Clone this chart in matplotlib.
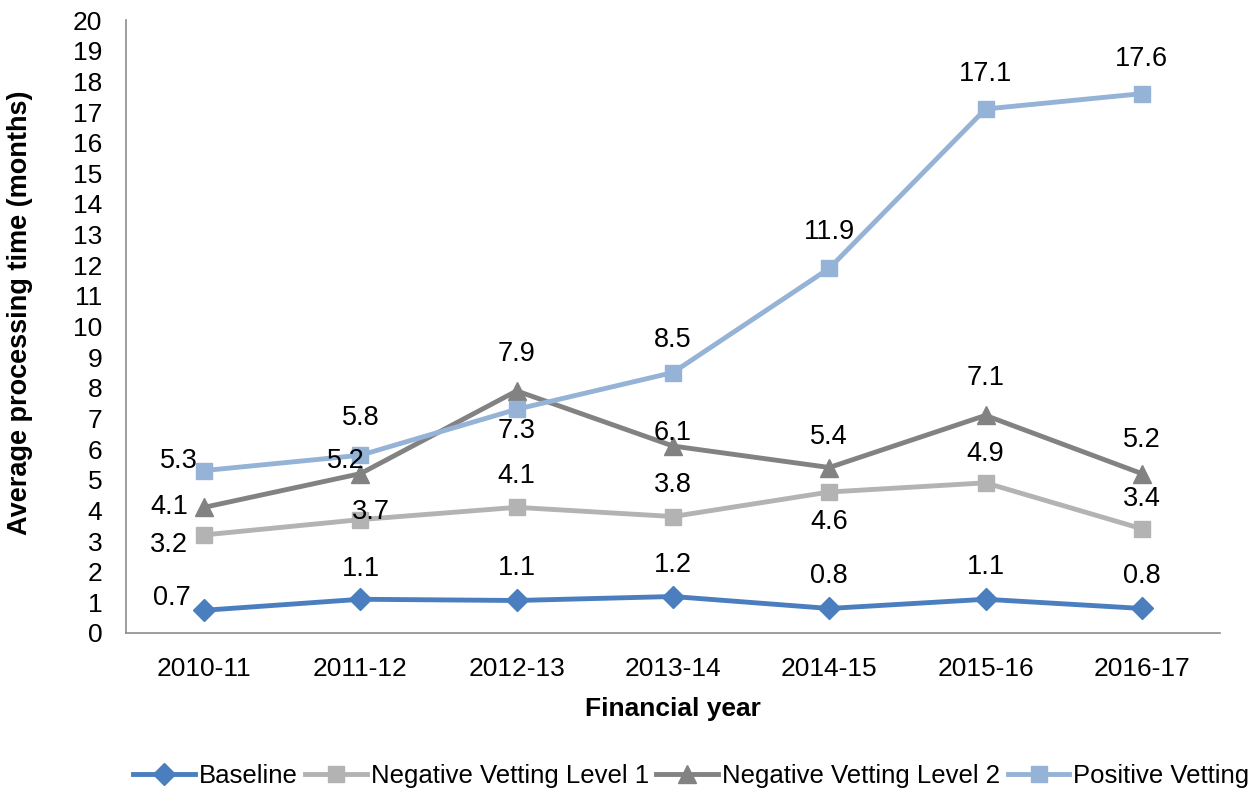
import numpy as np
import matplotlib
matplotlib.use("Agg")
from matplotlib import pyplot as plt

plt.rcParams["font.family"] = ["Liberation Sans", "DejaVu Sans"]

years = ["2010-11", "2011-12", "2012-13", "2013-14", "2014-15", "2015-16", "2016-17"]
baseline = [0.74, 1.1, 1.06, 1.19, 0.8, 1.1, 0.8]
neg1 = [3.2, 3.7, 4.1, 3.8, 4.6, 4.9, 3.4]
neg2 = [4.1, 5.2, 7.9, 6.1, 5.4, 7.1, 5.2]
positive = [5.3, 5.8, 7.3, 8.5, 11.9, 17.1, 17.6]

# label offsets in pixels (dx, dy)
off_base = [(-32, 12), (0, 30), (0, 32), (0, 32), (0, 32), (0, 32), (0, 32)]
off_neg1 = [(-35, -10), (10, 8), (0, 31), (0, 32), (0, -30), (0, 29), (0, 30)]
off_neg2 = [(-35, 0), (-15, 13), (0, 37), (0, 13), (0, 31), (0, 37), (0, 34)]
off_pos = [(-25, 10), (0, 37), (0, -22), (0, 33), (0, 36), (0, 35), (0, 35)]

fig = plt.figure(figsize=(12.59, 8.05), dpi=100)
ax = fig.add_axes([0.1001, 0.2137, 0.8689, 0.7613])
x = np.arange(len(years))

series = [
    ("Baseline", baseline, "#4A7EBF", "D", 11, off_base),
    ("Negative Vetting Level 1", neg1, "#B3B3B3", "s", 12, off_neg1),
    ("Negative Vetting Level 2", neg2, "#828282", "^", 13, off_neg2),
    ("Positive Vetting", positive, "#95B3D7", "s", 12, off_pos),
]
for name, vals, col, mk, ms, offs in series:
    ax.plot(x, vals, color=col, lw=3.5, marker=mk, markersize=ms, label=name)
    for i, v in enumerate(vals):
        ax.annotate("%.1f" % v, (x[i], v), xytext=offs[i], textcoords="offset pixels",
                    ha="center", va="center", fontsize=19.5, color="black")

ax.set_xlim(-0.5, 6.5)
ax.set_ylim(0, 20)
ax.set_yticks(range(0, 21))
ax.set_xticks(x)
ax.set_xticklabels(years)
ax.tick_params(length=0, labelsize=19)
ax.tick_params(axis="x", pad=17)
ax.tick_params(axis="y", pad=17)
for s in ["top", "right"]:
    ax.spines[s].set_visible(False)
for s in ["left", "bottom"]:
    ax.spines[s].set_color("#8C8C8C")
    ax.spines[s].set_linewidth(1.2)
ax.set_xlabel("Financial year", fontsize=19, fontweight="bold", labelpad=12)
fig.text(20 / 1259, 1 - 313 / 805, "Average processing time (months)", rotation=90,
         ha="center", va="center", fontsize=19.5, fontweight="bold")

fig.legend(loc="lower center", bbox_to_anchor=(0.549, -0.008), ncol=4, frameon=False,
           fontsize=18.5, handlelength=2.4, columnspacing=0.3, handletextpad=0.15)
fig.savefig("out.png", dpi=100)
